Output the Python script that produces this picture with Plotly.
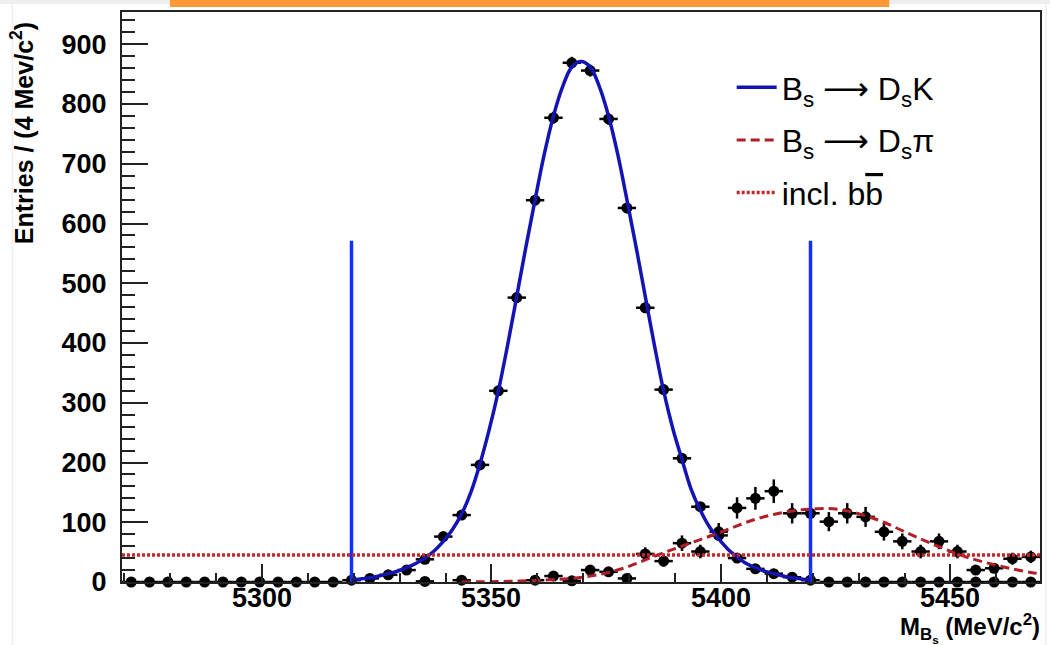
import plotly.graph_objects as go

# ---------------- data ----------------
bin_low = 5269.5
bin_width = 4.0
n_bins = 50
bin_centers = [bin_low + bin_width * (i + 0.5) for i in range(n_bins)]
half_bin = [bin_width / 2] * n_bins

# B_s -> D_s K sample (per 4 MeV bin)
dsk_counts = [0, 0, 0, 0, 0, 0, 0, 0, 0, 0, 0, 0,
              3, 6, 12, 20, 38, 76, 112, 196, 320, 476, 639, 777, 869, 856,
              775, 626, 459, 322, 207, 126, 78, 40, 22, 14, 8, 3,
              0, 0, 0, 0, 0, 0, 0, 0, 0, 0, 0, 0]
dsk_errors = [0, 0, 0, 0, 0, 0, 0, 0, 0, 0, 0, 0,
              1, 2, 2, 3, 4, 5, 6, 7, 8, 9, 9, 10, 10, 10,
              10, 9, 9, 8, 7, 6, 5, 4, 3, 2, 2, 1,
              0, 0, 0, 0, 0, 0, 0, 0, 0, 0, 0, 0]

# B_s -> D_s pi sample (None = bin not drawn)
dspi_counts = [None] * 16 + [1, None, 3, None, None, None,
               3, 10, 2, 20, 17, 6, 47, 35, 65, 51, 84, 124, 140, 152,
               115, 115, 101, 115, 109, 84, 68, 51, 68, 51, 20, 23, 39, 42]
dspi_errors = [None] * 16 + [1.6, None, 2.8, None, None, None,
               2.8, 5.0, 2.3, 7.2, 6.6, 4.0, 11.0, 9.5, 13.0, 11.4, 14.7, 17.8, 19.0, 19.7,
               17.0, 17.0, 16.0, 17.0, 16.7, 14.7, 13.2, 11.4, 13.2, 11.4, 7.2, 7.7, 10.0, 10.4]

# fitted B_s -> D_s K shape (read every 2 MeV, 5319.5 .. 5419.5)
dsk_fit_x = [5319.5 + 2 * k for k in range(51)]
dsk_fit_y = [3, 5, 7, 10, 14, 18, 24, 31, 40, 52, 68, 88, 114, 150, 198, 255, 320, 396,
             478, 561, 640, 716, 780, 829, 862, 871,
             862, 829, 780, 716, 640, 561, 478, 396, 320, 257, 205, 155, 120, 92, 72,
             55, 42, 31, 24, 18, 14, 10, 7, 5, 3]

# fitted B_s -> D_s pi shape (read every 4 MeV)
dspi_fit_x = [5343.5 + 4 * k for k in range(32)] + [5469.5]
dspi_fit_y = [0, 0.3, 0.7, 1.5, 2.5, 4, 6, 10, 16, 25, 37, 49, 60, 71, 82, 94, 105, 113,
              119, 122, 123, 119, 111, 100, 86, 72, 59, 47, 37, 29, 22, 16, 14]

# inclusive b bbar level and mass window
bb_level = 45
x_range = [5269.5, 5469.5]
y_range = [0, 954]
window_edges = [5319.5, 5419.5]
window_top = 571

x_tick_values = [5300, 5350, 5400, 5450]
x_tick_labels = ["5300", "5350", "5400", "5450"]

ARROW = "<span style='font-family:DejaVu Sans'>\u27f6</span>"
legend_names = ["B<sub>s</sub> " + ARROW + " D<sub>s</sub>K",
                "B<sub>s</sub> " + ARROW + " D<sub>s</sub>\u03c0",
                "incl. b<span style='text-decoration:overline'>b</span>"]

# ---------------- figure ----------------
fig = go.Figure()

err_style = dict(thickness=2.5, width=0, color="black")

fig.add_trace(go.Scatter(
    x=bin_centers, y=dsk_counts, mode="markers",
    marker=dict(color="black", size=11),
    error_x=dict(type="data", array=half_bin, **err_style),
    error_y=dict(type="data", array=dsk_errors, **err_style),
    showlegend=False, hoverinfo="skip", cliponaxis=False))

fig.add_trace(go.Scatter(
    x=bin_centers, y=dspi_counts, mode="markers",
    marker=dict(color="black", size=11),
    error_x=dict(type="data", array=half_bin, **err_style),
    error_y=dict(type="data", array=dspi_errors, **err_style),
    showlegend=False, hoverinfo="skip", cliponaxis=False))

# mass window lines
for xe in window_edges:
    fig.add_trace(go.Scatter(
        x=[xe, xe], y=[0, window_top], mode="lines",
        line=dict(color="#1030ff", width=3.5), showlegend=False, hoverinfo="skip"))

fig.add_trace(go.Scatter(
    x=dsk_fit_x, y=dsk_fit_y, mode="lines", name=legend_names[0],
    line=dict(color="#1414b4", width=3.5, shape="spline"), legendgroup="a"))

fig.add_trace(go.Scatter(
    x=dspi_fit_x, y=dspi_fit_y, mode="lines", name=legend_names[1],
    line=dict(color="#b01e28", width=3, dash="9px,5px", shape="spline"), legendgroup="b"))

fig.add_trace(go.Scatter(
    x=x_range, y=[bb_level, bb_level], mode="lines", name=legend_names[2],
    line=dict(color="#c4262c", width=3.5, dash="3px,2px"), legendgroup="c"))

tick_font = dict(family="Liberation Sans", size=27, color="black", weight="bold")

axis_common = dict(
    showline=True, linecolor="#222222", linewidth=2, mirror=True,
    ticks="inside", tickwidth=2, tickcolor="#222222",
    showgrid=False, zeroline=False, tickfont=tick_font,
)

fig.update_xaxes(range=x_range, tickvals=x_tick_values, ticklen=18, showticklabels=False,
                 minor=dict(dtick=10, ticks="inside", ticklen=9, tickwidth=2, tickcolor="#222222"),
                 **axis_common)
fig.update_yaxes(range=y_range, dtick=100, tick0=0, ticklen=26,
                 minor=dict(dtick=20, ticks="inside", ticklen=13, tickwidth=2, tickcolor="#222222"),
                 ticklabelstandoff=8, **axis_common)

W, H = 1052, 645
L, R, T, B = 122, 10, 12, 63
pw, ph = W - L - R, H - T - B

def px(xp):
    return (xp - L) / pw

def py(yp):
    return (H - B - yp) / ph

annotations = [
    dict(text=lab, xref="x", yref="paper", x=val, y=py(598), xanchor="center",
         yanchor="middle", showarrow=False, font=tick_font, height=24)
    for val, lab in zip(x_tick_values, x_tick_labels)
]
annotations += [
    dict(text="M<sub>B<sub>s</sub></sub> (MeV/c<sup>2</sup>)", xref="paper", yref="paper",
         x=px(1044), y=py(628), xanchor="right", yanchor="middle", showarrow=False,
         font=dict(family="Liberation Sans", size=24, color="black", weight="bold")),
    dict(text="Entries / (4 Mev/c<sup>2</sup>)", xref="paper", yref="paper",
         x=px(22), y=py(20), xanchor="center", yanchor="top", textangle=-90, showarrow=False,
         font=dict(family="Liberation Sans", size=25, color="black", weight="bold")),
]

fig.update_layout(
    width=W, height=H,
    margin=dict(l=L, r=R, t=T, b=B),
    paper_bgcolor="white", plot_bgcolor="white",
    legend=dict(x=px(733), y=py(60), xanchor="left", yanchor="top",
                font=dict(family="Liberation Sans", size=32, color="black"),
                bgcolor="rgba(0,0,0,0)", tracegroupgap=8, itemwidth=40),
    annotations=annotations,
    shapes=[
        dict(type="rect", xref="paper", yref="paper", x0=px(0), x1=px(W), y0=py(4), y1=py(0),
             fillcolor="#eeeeee", line=dict(width=0), layer="below"),
        dict(type="rect", xref="paper", yref="paper", x0=px(170), x1=px(891), y0=py(7), y1=py(0),
             fillcolor="#ff9a35", line=dict(width=0)),
        dict(type="line", xref="paper", yref="paper", x0=px(12), x1=px(12), y0=py(H), y1=py(4),
             line=dict(color="#e8e8e8", width=1)),
        dict(type="line", xref="paper", yref="paper", x0=px(1048), x1=px(1048), y0=py(H), y1=py(4),
             line=dict(color="#e8e8e8", width=1)),
    ],
)

fig.write_html("out.html")
